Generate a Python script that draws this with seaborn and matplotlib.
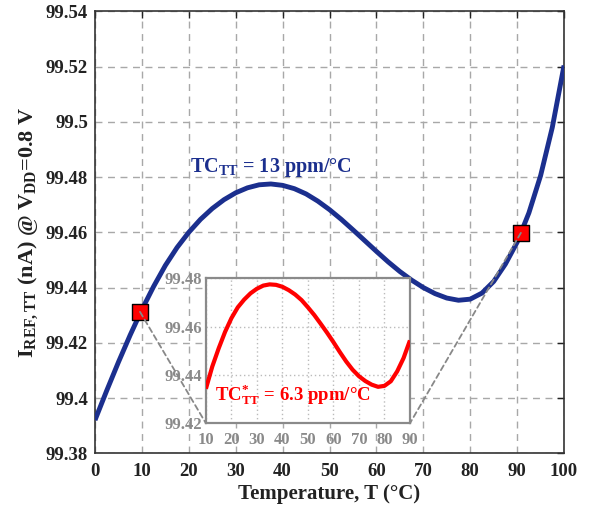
import numpy as np
import pandas as pd
import matplotlib
matplotlib.use("Agg")
import matplotlib.pyplot as plt
from matplotlib.patches import ConnectionPatch
import seaborn as sns

# ---- data ----
temp_main = [0, 2.5, 5, 7.5, 10, 12.5, 15, 17.5, 20, 22.5, 25, 27.5, 30, 32.5, 35, 37.5, 40, 42.5, 45,
             47.5, 50, 52.5, 55, 57.5, 60, 62.5, 65, 67.5, 70, 72.5, 75, 77.5, 80, 82.5, 85, 87.5, 90,
             92.5, 95, 97.5, 100]
iref_main = [99.3920, 99.4027, 99.4130, 99.4228, 99.4320, 99.4404, 99.4480, 99.4545, 99.4600, 99.4647,
             99.4686, 99.4718, 99.4743, 99.4761, 99.4772, 99.4775, 99.4770, 99.4758, 99.4739, 99.4713,
             99.4682, 99.4647, 99.4609, 99.4570, 99.4531, 99.4493, 99.4458, 99.4427, 99.4400, 99.4378,
             99.4362, 99.4354, 99.4358, 99.4380, 99.4422, 99.4485, 99.4564, 99.4670, 99.4805, 99.4980,
             99.5204]
temp_inset = [10, 12.5, 15, 17.5, 20, 22.5, 25, 27.5, 30, 32.5, 35, 37.5, 40, 42.5, 45, 47.5, 50, 52.5,
              55, 57.5, 60, 62.5, 65, 67.5, 70, 72.5, 75, 77.5, 80, 82.5, 85, 87.5, 90]
iref_inset = [99.4343, 99.4435, 99.4510, 99.4578, 99.4635, 99.4680, 99.4712, 99.4738, 99.4757, 99.4770,
              99.4775, 99.4773, 99.4765, 99.4751, 99.4733, 99.4710, 99.4680, 99.4648, 99.4612, 99.4575,
              99.4536, 99.4495, 99.4456, 99.4422, 99.4395, 99.4375, 99.4360, 99.4351, 99.4355, 99.4374,
              99.4415, 99.4470, 99.4543]
marker_t = [9.6, 90.8]
marker_i = [99.4312, 99.4598]
main_xticks = [0, 10, 20, 30, 40, 50, 60, 70, 80, 90, 100]
main_yticks = [99.38, 99.40, 99.42, 99.44, 99.46, 99.48, 99.50, 99.52, 99.54]
main_ytick_labels = ["99.38", "99.4", "99.42", "99.44", "99.46", "99.48", "99.5", "99.52", "99.54"]
inset_xticks = [10, 20, 30, 40, 50, 60, 70, 80, 90]
inset_yticks = [99.42, 99.44, 99.46, 99.48]

sns.set_theme(style="white")
plt.rcParams["font.family"] = ["Liberation Serif", "DejaVu Serif"]
plt.rcParams["font.weight"] = "bold"
plt.rcParams["mathtext.fontset"] = "custom"
plt.rcParams["mathtext.rm"] = "Liberation Serif:bold"
plt.rcParams["mathtext.it"] = "Liberation Serif:bold"
plt.rcParams["mathtext.bf"] = "Liberation Serif:bold"

BLUE = "#1b2f8e"
RED = "#ff0000"
GRAY = "#8a8a8a"

fig = plt.figure(figsize=(5.9, 5.08), dpi=100)
ax = fig.add_axes([0.161, 0.1077, 0.795, 0.870])

df_main = pd.DataFrame({"T": temp_main, "I": iref_main})
sns.lineplot(data=df_main, x="T", y="I", ax=ax, color=BLUE, lw=3.5, zorder=3,
             solid_joinstyle="round", solid_capstyle="butt")
df_mk = pd.DataFrame({"T": marker_t, "I": marker_i})
sns.scatterplot(data=df_mk, x="T", y="I", ax=ax, color=RED, marker="s", s=130,
                edgecolor="black", linewidth=1.0, zorder=6)

ax.set_xlim(0, 100)
ax.set_ylim(99.38, 99.54)
ax.set_xticks(main_xticks)
ax.set_yticks(main_yticks)
ax.set_yticklabels(main_ytick_labels)
ax.tick_params(direction="in", top=True, right=True, length=5, width=1, labelsize=13.5, colors="#222222")
ax.tick_params(axis="x", pad=7)
ax.tick_params(axis="y", pad=5)
for lab in ax.get_xticklabels() + ax.get_yticklabels():
    lab.set_fontweight("bold")
ax.grid(True, linestyle=(0, (5, 4)), color="#a8a8a8", lw=1.0)
for s in ax.spines.values():
    s.set_color("#333333")
    s.set_linewidth(1.2)
ax.set_xlabel("Temperature, T (°C)", fontsize=15, fontweight="bold", color="#222222", labelpad=3)
ax.set_ylabel(r"I$_{\mathrm{REF,TT}}$ (nA) @ V$_{\mathrm{DD}}$=0.8 V", fontsize=16, fontweight="bold",
              color="#222222", labelpad=4)
ax.text(20.3, 99.4835, r"TC$_{\mathrm{TT}}$ = 13 ppm/°C", color=BLUE, fontsize=14.5, fontweight="bold",
        ha="left", va="center", zorder=5)

# ---- inset ----
axin = fig.add_axes([0.349, 0.1667, 0.3458, 0.2854])
axin.set_facecolor("white")
df_in = pd.DataFrame({"T": temp_inset, "I": iref_inset})
sns.lineplot(data=df_in, x="T", y="I", ax=axin, color=RED, lw=3.0, zorder=3,
             solid_joinstyle="round", solid_capstyle="butt")
axin.set_xlim(10, 90)
axin.set_ylim(99.42, 99.48)
axin.set_xticks(inset_xticks)
axin.set_yticks(inset_yticks)
axin.set_xlabel("")
axin.set_ylabel("")
axin.tick_params(direction="in", length=3, colors=GRAY, labelsize=12)
axin.tick_params(axis="x", pad=6)
axin.tick_params(axis="y", pad=3)
for lab in axin.get_xticklabels() + axin.get_yticklabels():
    lab.set_fontweight("bold")
axin.grid(True, linestyle=(0, (1, 2)), color="#bbbbbb", lw=1.0)
for s in axin.spines.values():
    s.set_color(GRAY)
    s.set_linewidth(1.6)
axin.text(13.4, 99.4318, r"TC$^{*}_{\mathrm{TT}}$ = 6.3 ppm/°C", color=RED, fontsize=13.5, fontweight="bold",
          ha="left", va="center", zorder=5)

# connector lines
for (xt, yi), (xa, ya) in zip(zip(marker_t, marker_i), [(0, 0), (1, 0)]):
    con = ConnectionPatch(xyA=(xt, yi), coordsA=ax.transData, xyB=(xa, ya), coordsB=axin.transAxes,
                          color="#888888", lw=1.3, linestyle=(0, (3, 2)), zorder=4)
    fig.add_artist(con)

fig.savefig("out.png", dpi=100)
